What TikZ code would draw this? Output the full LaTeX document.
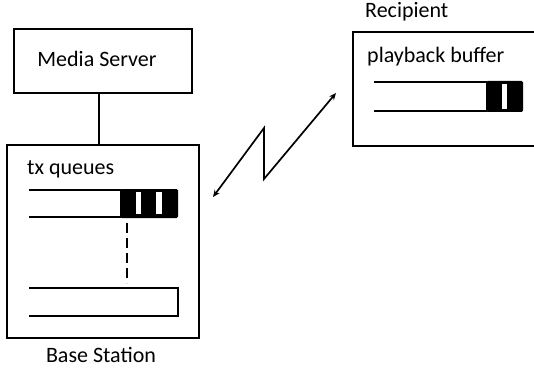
\documentclass[tikz,border=0pt]{standalone}
\usepackage{fontspec}
\setmainfont{Carlito}
\usetikzlibrary{arrows.meta}
\begin{document}
\begin{tikzpicture}[x=1pt,y=-1pt,
  box/.style={draw, line width=1.8pt, rectangle, inner sep=0pt},
  lbl/.style={font=\fontsize{22}{25}\selectfont, inner sep=0pt},
  qline/.style={line width=1.8pt},
  blk/.style={fill=black, rounded corners=1.5pt},
  gap/.style={fill=white}]
\clip (0,0) rectangle (534,371);

% media server and base station
\node[box, minimum width=178pt, minimum height=64pt] (ms) at (103,61) {};
\node[lbl, anchor=base] (mslbl) at (97,67) {Media Server};
\node[box, minimum width=192pt, minimum height=193pt] (bs) at (103,241.5) {};
\draw[line width=1.8pt] ([xshift=-4pt]ms.south) -- ([xshift=-4pt]bs.north);
\node[lbl, anchor=base west] (txq) at (27,175) {tx queues};
\node[lbl, anchor=base] (bslbl) at (101,362) {Base Station};

% first transmit queue (filled at the head)
\draw[qline] (29,190) -- (121,190);
\draw[qline] (29,217) -- (121,217);
\fill[blk] (120,189) rectangle (178,218);
\fill[gap] (136,192) rectangle (141,214);
\fill[gap] (156,192) rectangle (162,214);

% queues in between
\draw[line width=1.6pt, dash pattern=on 10pt off 5pt] (127,223) -- (127,283);

% last transmit queue (empty)
\draw[qline] (29,288) -- (178,288) -- (178,316) -- (29,316);

% recipient
\node[lbl, anchor=base west] (rlbl) at (365,18) {Recipient};
\node[box, minimum width=187pt, minimum height=114pt] (rc) at (446.5,89) {};
\node[lbl, anchor=base west] (pbl) at (367,63) {playback buffer};
\draw[qline] (374,82) -- (487,82);
\draw[qline] (374,111) -- (487,111);
\fill[blk] (486,81) rectangle (523,112);
\fill[gap] (502,84) rectangle (507,109);

% wireless link
\coordinate (la) at (213,197);
\coordinate (lz1) at (264,128);
\coordinate (lz2) at (264,179);
\coordinate (lb) at (336,93);
\draw[line width=1.7pt, {Stealth[length=7pt,width=6pt]}-{Stealth[length=7pt,width=6pt]}, line join=miter]
  (la) -- (lz1) -- (lz2) -- (lb);
\end{tikzpicture}
\end{document}
